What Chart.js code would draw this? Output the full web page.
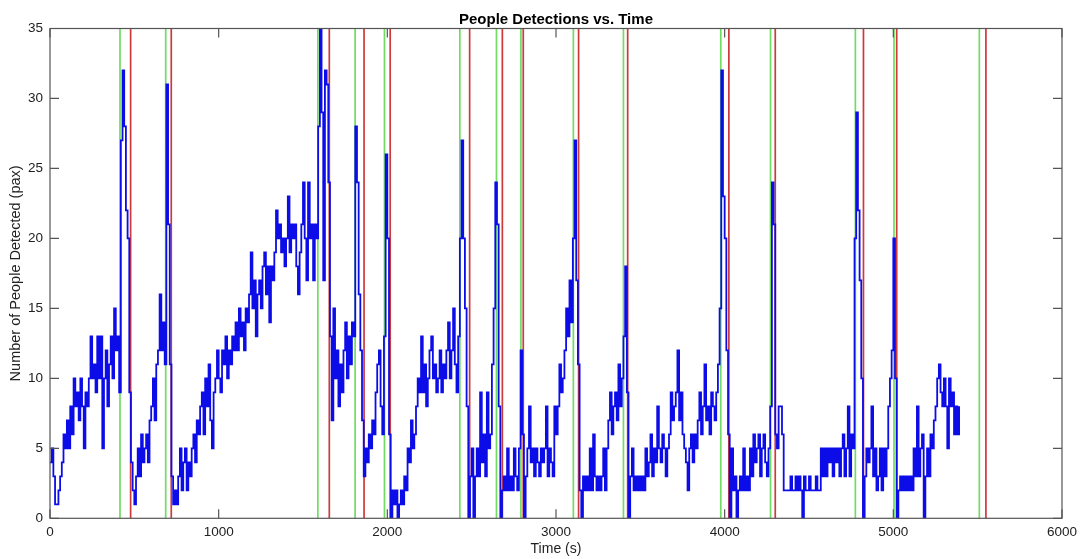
<!DOCTYPE html>
<html>
<head>
<meta charset="utf-8">
<style>
  html, body { margin: 0; padding: 0; background: #ffffff; }
  #wrap { width: 1083px; height: 559px; position: relative; }
</style>
<script src="https://cdn.jsdelivr.net/npm/chart.js@4.4.0/dist/chart.umd.min.js"></script>
</head>
<body>
<div id="wrap"><canvas id="c"></canvas></div>
<script>
// ---- data ----
const SAMPLE_STEP = 10; // seconds between samples
const peopleCounts = [
  4,5,3,1,1,2,3,4,6,5,
  7,5,8,6,10,8,9,7,10,8,
  5,9,8,10,13,10,11,9,13,10,
  13,5,10,12,8,11,13,10,15,12,
  13,9,27,32,28,22,20,9,4,2,
  1,3,5,3,6,4,5,6,4,7,
  8,10,7,11,12,16,12,14,11,31,
  21,11,3,1,2,1,3,5,2,4,
  5,2,4,3,5,6,4,7,6,8,
  9,6,10,8,11,7,5,9,10,12,
  10,9,12,11,13,10,12,11,13,12,
  14,12,15,13,14,12,15,14,16,19,
  15,17,13,16,17,15,18,19,16,18,
  14,18,17,19,22,20,21,19,20,18,
  20,23,19,21,20,21,18,16,19,21,
  24,20,17,24,20,21,17,21,20,28,
  35,29,17,32,31,24,13,7,15,10,
  12,8,11,9,12,14,10,13,11,14,
  13,28,24,16,12,7,3,5,4,6,
  5,7,6,9,11,12,8,6,13,26,
  20,6,0,2,1,2,0,1,2,1,
  3,2,5,4,7,5,6,8,10,9,
  13,9,11,8,10,12,13,10,11,9,
  10,12,9,11,10,12,14,10,12,15,
  11,9,13,20,27,20,15,8,0,3,
  5,0,3,5,3,9,4,6,3,9,
  5,6,11,15,24,21,8,0,2,3,
  2,5,2,3,2,5,3,2,5,12,
  6,0,3,5,8,4,5,3,5,4,
  3,5,4,5,8,3,5,4,3,8,
  6,8,11,9,10,12,15,13,17,14,
  20,27,17,11,2,0,3,2,3,2,
  5,2,6,3,2,3,2,3,5,2,
  5,7,9,6,8,9,7,11,8,10,
  13,18,9,0,3,5,2,3,2,3,
  2,3,2,5,3,4,6,3,5,4,
  8,5,4,6,5,3,5,6,9,7,
  8,9,12,7,9,6,5,4,2,5,
  6,4,6,5,7,9,6,8,11,7,
  8,6,9,8,7,9,11,15,32,23,
  20,12,6,0,5,2,3,0,2,3,
  2,5,2,3,2,5,3,6,4,5,
  6,3,5,6,4,3,5,8,24,21,
  6,5,8,8,6,2,2,2,2,3,
  2,2,3,2,3,2,0,3,2,2,
  3,2,2,2,3,2,2,5,3,5,
  3,5,4,5,3,5,4,5,3,5,
  6,3,5,8,3,6,5,20,29,22,
  17,10,0,3,5,4,5,8,3,5,
  2,3,5,2,5,3,5,8,10,12,
  20,10,0,2,3,2,3,2,3,2,
  3,2,5,3,8,3,5,6,0,3,
  5,3,6,5,7,8,10,11,9,8,
  10,8,5,10,8,9,6,8,6,8
];
const entryTimes = [415, 686, 1588, 1809, 1983, 2430, 2647, 2792, 3103, 3400, 3977, 4272, 4775, 5004, 5510];
const exitTimes  = [478, 719, 1656, 1862, 2017, 2488, 2682, 2806, 3134, 3425, 4025, 4300, 4823, 5020, 5549];
const xTickValues = [0, 1000, 2000, 3000, 4000, 5000, 6000];
const yTickValues = [0, 5, 10, 15, 20, 25, 30, 35];

// ---- build library structures from the arrays ----
const Y_MIN = yTickValues[0];
const Y_MAX = yTickValues[yTickValues.length - 1];
const X_MIN = xTickValues[0];
const X_MAX = xTickValues[xTickValues.length - 1];

const countPoints = peopleCounts.map((v, i) => ({ x: i * SAMPLE_STEP, y: v }));
function markerPoints(times) {
  const pts = [];
  times.forEach(t => { pts.push({ x: t, y: Y_MIN }, { x: t, y: Y_MAX }, { x: t, y: null }); });
  return pts;
}

const FONT = "'Liberation Sans', Arial, Helvetica, sans-serif";
const AXIS_COLOR = '#555555';
const TICK_LEN = 9;

const frameTicks = {
  id: 'frameTicks',
  afterDraw(chart) {
    const { ctx, chartArea: a, scales: { x, y } } = chart;
    ctx.save();
    ctx.strokeStyle = AXIS_COLOR;
    ctx.lineWidth = 1.2;
    ctx.strokeRect(a.left, a.top, a.right - a.left, a.bottom - a.top);
    ctx.beginPath();
    x.ticks.forEach(t => {
      const p = x.getPixelForValue(t.value);
      ctx.moveTo(p, a.bottom); ctx.lineTo(p, a.bottom - TICK_LEN);
      ctx.moveTo(p, a.top); ctx.lineTo(p, a.top + TICK_LEN);
    });
    y.ticks.forEach(t => {
      const p = y.getPixelForValue(t.value);
      ctx.moveTo(a.left, p); ctx.lineTo(a.left + TICK_LEN, p);
      ctx.moveTo(a.right, p); ctx.lineTo(a.right - TICK_LEN, p);
    });
    ctx.stroke();
    ctx.restore();
  }
};

new Chart(document.getElementById('c'), {
  type: 'line',
  data: {
    datasets: [
      {
        label: 'People detected',
        data: countPoints,
        borderColor: '#0c0ce8',
        borderWidth: 1.8,
        pointRadius: 0,
        stepped: true,
        fill: false,
        order: 0
      },
      {
        label: 'Exit',
        data: markerPoints(exitTimes),
        borderColor: 'rgb(204,58,58)',
        borderWidth: 1.7,
        pointRadius: 0,
        spanGaps: false,
        order: 1
      },
      {
        label: 'Entry',
        data: markerPoints(entryTimes),
        borderColor: 'rgb(112,220,100)',
        borderWidth: 1.7,
        pointRadius: 0,
        spanGaps: false,
        order: 2
      }
    ]
  },
  options: {
    responsive: true,
    maintainAspectRatio: false,
    animation: false,
    parsing: true,
    layout: { padding: { left: 0, right: 21, top: 0, bottom: 0 } },
    plugins: {
      legend: { display: false },
      tooltip: { enabled: false },
      title: {
        display: true,
        text: 'People Detections vs. Time',
        fullSize: false,
        color: '#000000',
        font: { family: FONT, size: 15, weight: 'bold', lineHeight: 1.2 },
        padding: { top: 10.5, bottom: 0 }
      }
    },
    scales: {
      x: {
        type: 'linear',
        min: X_MIN,
        max: X_MAX,
        grid: { display: false, drawTicks: false },
        border: { display: false },
        afterBuildTicks: s => { s.ticks = xTickValues.map(v => ({ value: v })); },
        afterFit: s => { s.height = 40.7; },
        ticks: {
          color: '#222222',
          padding: 6,
          maxRotation: 0,
          font: { family: FONT, size: 13.5 },
          callback: v => String(v)
        },
        title: {
          display: true,
          text: 'Time (s)',
          color: '#222222',
          font: { family: FONT, size: 14 },
          padding: { top: 0, bottom: 1 }
        }
      },
      y: {
        type: 'linear',
        min: Y_MIN,
        max: Y_MAX,
        grid: { display: false, drawTicks: false },
        border: { display: false },
        afterBuildTicks: s => { s.ticks = yTickValues.map(v => ({ value: v })); },
        afterFit: s => { s.width = 50; },
        ticks: {
          color: '#222222',
          padding: 7,
          font: { family: FONT, size: 13.5 },
          callback: v => String(v)
        },
        title: {
          display: true,
          text: 'Number of People Detected (pax)',
          color: '#222222',
          font: { family: FONT, size: 14.5 },
          padding: { top: 7, bottom: 0 }
        }
      }
    }
  },
  plugins: [frameTicks]
});
</script>
</body>
</html>
